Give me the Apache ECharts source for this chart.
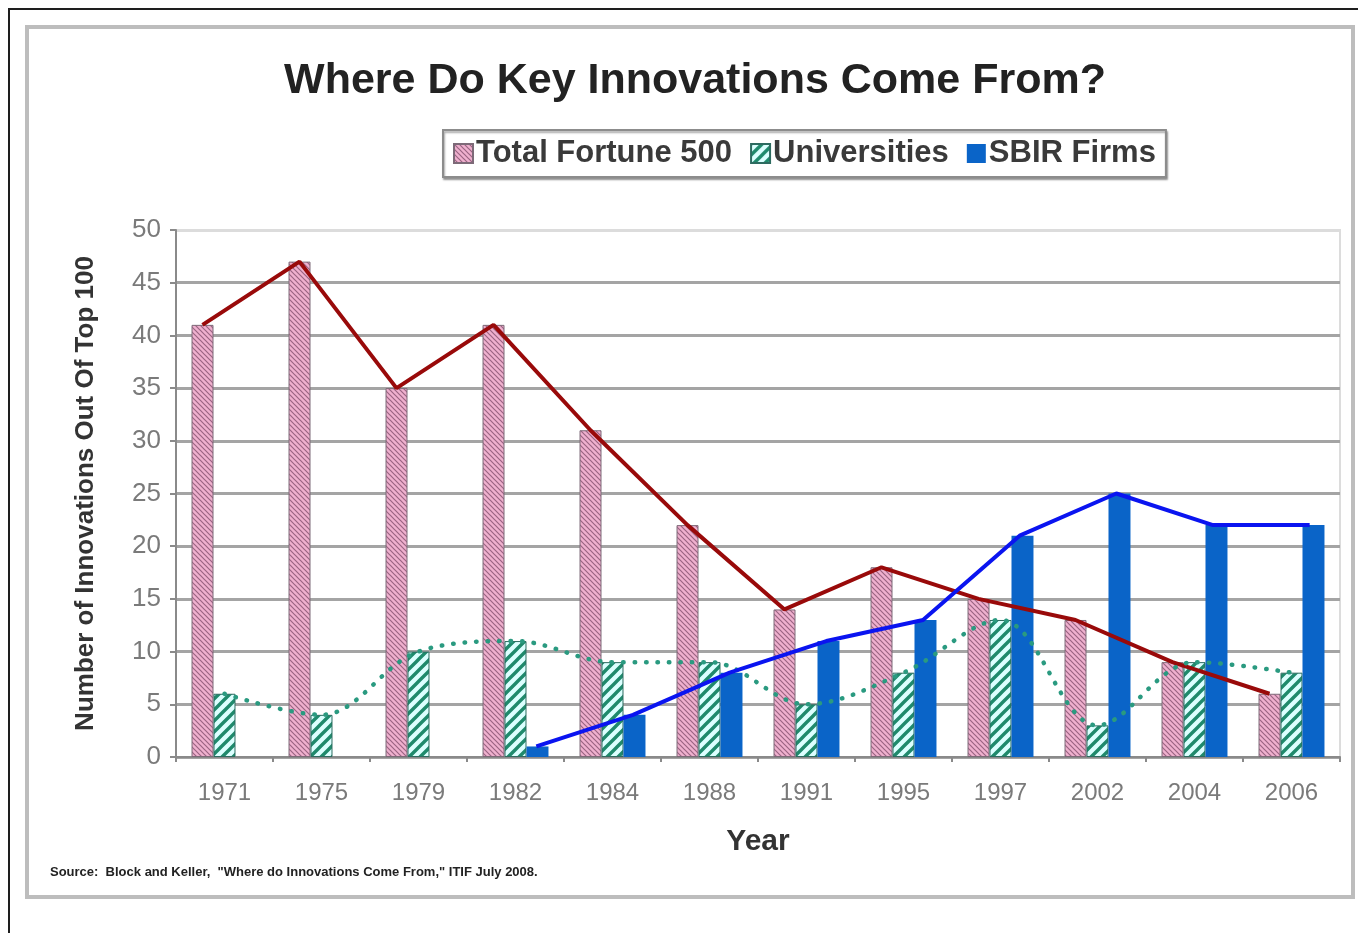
<!DOCTYPE html>
<html>
<head>
<meta charset="utf-8">
<script src="https://cdn.jsdelivr.net/npm/echarts@6/dist/echarts.min.js"></script>
<style>
html,body{margin:0;padding:0;background:#fff;}
#chart{width:1358px;height:933px;}
</style>
</head>
<body>
<div id="chart"></div>
<script>
// ---- data ----
var years = ['1971','1975','1979','1982','1984','1988','1991','1995','1997','2002','2004','2006'];
var fortune500 = [41, 47, 35, 41, 31, 22, 14, 18, 15, 13, 9, 6];
var universities = [6, 4, 10, 11, 9, 9, 5, 8, 13, 3, 9, 8];
var sbirFirms = [null, null, null, 1, 4, 8, 11, 13, 21, 25, 22, 22];
var yTicks = {min: 0, max: 50, interval: 5};

function stripePattern(size, bg, fg, lw, dir) {
  var c = document.createElement('canvas');
  c.width = size; c.height = size;
  var g = c.getContext('2d');
  g.fillStyle = bg; g.fillRect(0, 0, size, size);
  g.strokeStyle = fg; g.lineWidth = lw;
  g.beginPath();
  if (dir === 'back') { // "\"
    g.moveTo(0, 0); g.lineTo(size, size);
    g.moveTo(-size / 2, size / 2); g.lineTo(size / 2, size * 1.5);
    g.moveTo(size / 2, -size / 2); g.lineTo(size * 1.5, size / 2);
  } else { // "/"
    g.moveTo(0, size); g.lineTo(size, 0);
    g.moveTo(-size / 2, size / 2); g.lineTo(size / 2, -size / 2);
    g.moveTo(size / 2, size * 1.5); g.lineTo(size * 1.5, size / 2);
  }
  g.stroke();
  return {image: c, repeat: 'repeat'};
}

var pinkPat = stripePattern(5, '#efb0ce', '#9a6482', 1.2, 'back');
var tealPat = stripePattern(11, '#dcffff', '#1f8a6c', 3.4, 'fwd');

var gridColors = ['#a4a4a4','#a4a4a4','#a4a4a4','#a4a4a4','#a4a4a4','#a4a4a4','#a4a4a4','#a4a4a4','#a4a4a4','#a4a4a4','#dcdcdc'];
var FONT = 'Liberation Sans, Arial';

var chart = echarts.init(document.getElementById('chart'));
var hiddenX = function (gi) {
  return {type: 'category', data: years, gridIndex: gi, show: false, boundaryGap: true};
};
var hiddenY = function (gi) {
  return {type: 'value', gridIndex: gi, min: yTicks.min, max: yTicks.max, interval: yTicks.interval, show: false};
};

var option = {
  backgroundColor: '#ffffff',
  animation: false,
  title: {
    text: 'Where Do Key Innovations Come From?',
    left: 690, top: 55, textAlign: 'center',
    textStyle: {fontFamily: FONT, fontWeight: 'bold', fontSize: 43, color: '#222'}
  },
  legend: {
    data: ['Total Fortune 500', 'Universities', 'SBIR Firms'],
    left: 443, top: 130,
    padding: [8, 10, 8, 10],
    itemGap: 18, itemWidth: 19, itemHeight: 19, icon: 'rect',
    borderColor: '#8c8c8c', borderWidth: 2,
    shadowColor: 'rgba(0,0,0,0.35)', shadowBlur: 2, shadowOffsetX: 1, shadowOffsetY: 2,
    backgroundColor: '#fff',
    textStyle: {fontFamily: FONT, fontWeight: 'bold', fontSize: 31, color: '#3a3a3a', padding: [0, 0, 0, -2]}
  },
  grid: [
    {left: 176, right: 18, top: 230, bottom: 176},
    {left: 154, right: 40, top: 230, bottom: 176},
    {left: 198, right: -4, top: 230, bottom: 176}
  ],
  xAxis: [
    {
      type: 'category', data: years, gridIndex: 0,
      name: 'Year', nameLocation: 'middle', nameGap: 70,
      nameTextStyle: {fontFamily: FONT, fontWeight: 'bold', fontSize: 30, color: '#333'},
      axisLine: {lineStyle: {color: '#8a8a8a', width: 2}},
      axisTick: {show: true, length: 5, lineStyle: {color: '#8a8a8a', width: 2}},
      axisLabel: {fontFamily: FONT, fontSize: 24, color: '#7a7a7a', margin: 24},
      splitLine: {show: false}
    },
    hiddenX(1), hiddenX(2)
  ],
  yAxis: [
    {
      type: 'value', gridIndex: 0, min: yTicks.min, max: yTicks.max, interval: yTicks.interval,
      name: 'Number of Innovations Out Of Top 100', nameLocation: 'middle', nameGap: 77,
      nameTextStyle: {fontFamily: FONT, fontWeight: 'bold', fontSize: 26, color: '#333'},
      axisLine: {show: true, lineStyle: {color: '#8a8a8a', width: 2}},
      axisTick: {show: true, length: 6, lineStyle: {color: '#8a8a8a', width: 2}},
      axisLabel: {fontFamily: FONT, fontSize: 26, color: '#7a7a7a', margin: 15},
      splitLine: {show: true, lineStyle: {color: gridColors, width: 3}}
    },
    hiddenY(1), hiddenY(2)
  ],
  graphic: [
    {type: 'rect', z: -10, shape: {x: 9, y: 9, width: 1400, height: 1000}, style: {fill: 'none', stroke: '#1e1e1e', lineWidth: 2}},
    {type: 'rect', z: -10, shape: {x: 27, y: 27, width: 1326, height: 870}, style: {fill: 'none', stroke: '#bdbdbd', lineWidth: 4}},
    {type: 'line', z: -9, shape: {x1: 1340, y1: 229, x2: 1340, y2: 757}, style: {stroke: '#dcdcdc', lineWidth: 2}},
    {type: 'text', left: 50, top: 866,
     style: {text: 'Source:  Block and Keller,  "Where do Innovations Come From," ITIF July 2008.',
             fontFamily: FONT, fontWeight: 'bold', fontSize: 13, fill: '#222'}}
  ],
  series: [
    {name: 'Total Fortune 500', type: 'bar', xAxisIndex: 0, yAxisIndex: 0, data: fortune500,
     barGap: '0%', barCategoryGap: '32%',
     itemStyle: {color: pinkPat, borderColor: '#7d6a78', borderWidth: 1}},
    {name: 'Universities', type: 'bar', xAxisIndex: 0, yAxisIndex: 0, data: universities,
     itemStyle: {color: tealPat, borderColor: '#2d6b60', borderWidth: 1}},
    {name: 'SBIR Firms', type: 'bar', xAxisIndex: 0, yAxisIndex: 0, data: sbirFirms,
     itemStyle: {color: '#0a64c8'}},
    {name: 'Fortune 500 trend', type: 'line', xAxisIndex: 1, yAxisIndex: 1, data: fortune500,
     symbol: 'none', z: 5, lineStyle: {color: '#990a0a', width: 4}},
    {name: 'Universities trend', type: 'line', xAxisIndex: 0, yAxisIndex: 0, data: universities,
     symbol: 'none', smooth: 0.35, z: 5,
     lineStyle: {color: '#2a9a80', width: 4.5, type: [0.5, 11], cap: 'round'}},
    {name: 'SBIR trend', type: 'line', xAxisIndex: 2, yAxisIndex: 2, data: sbirFirms,
     symbol: 'none', z: 5, connectNulls: false, lineStyle: {color: '#0a14f0', width: 4}}
  ]
};
chart.setOption(option);
</script>
</body>
</html>
